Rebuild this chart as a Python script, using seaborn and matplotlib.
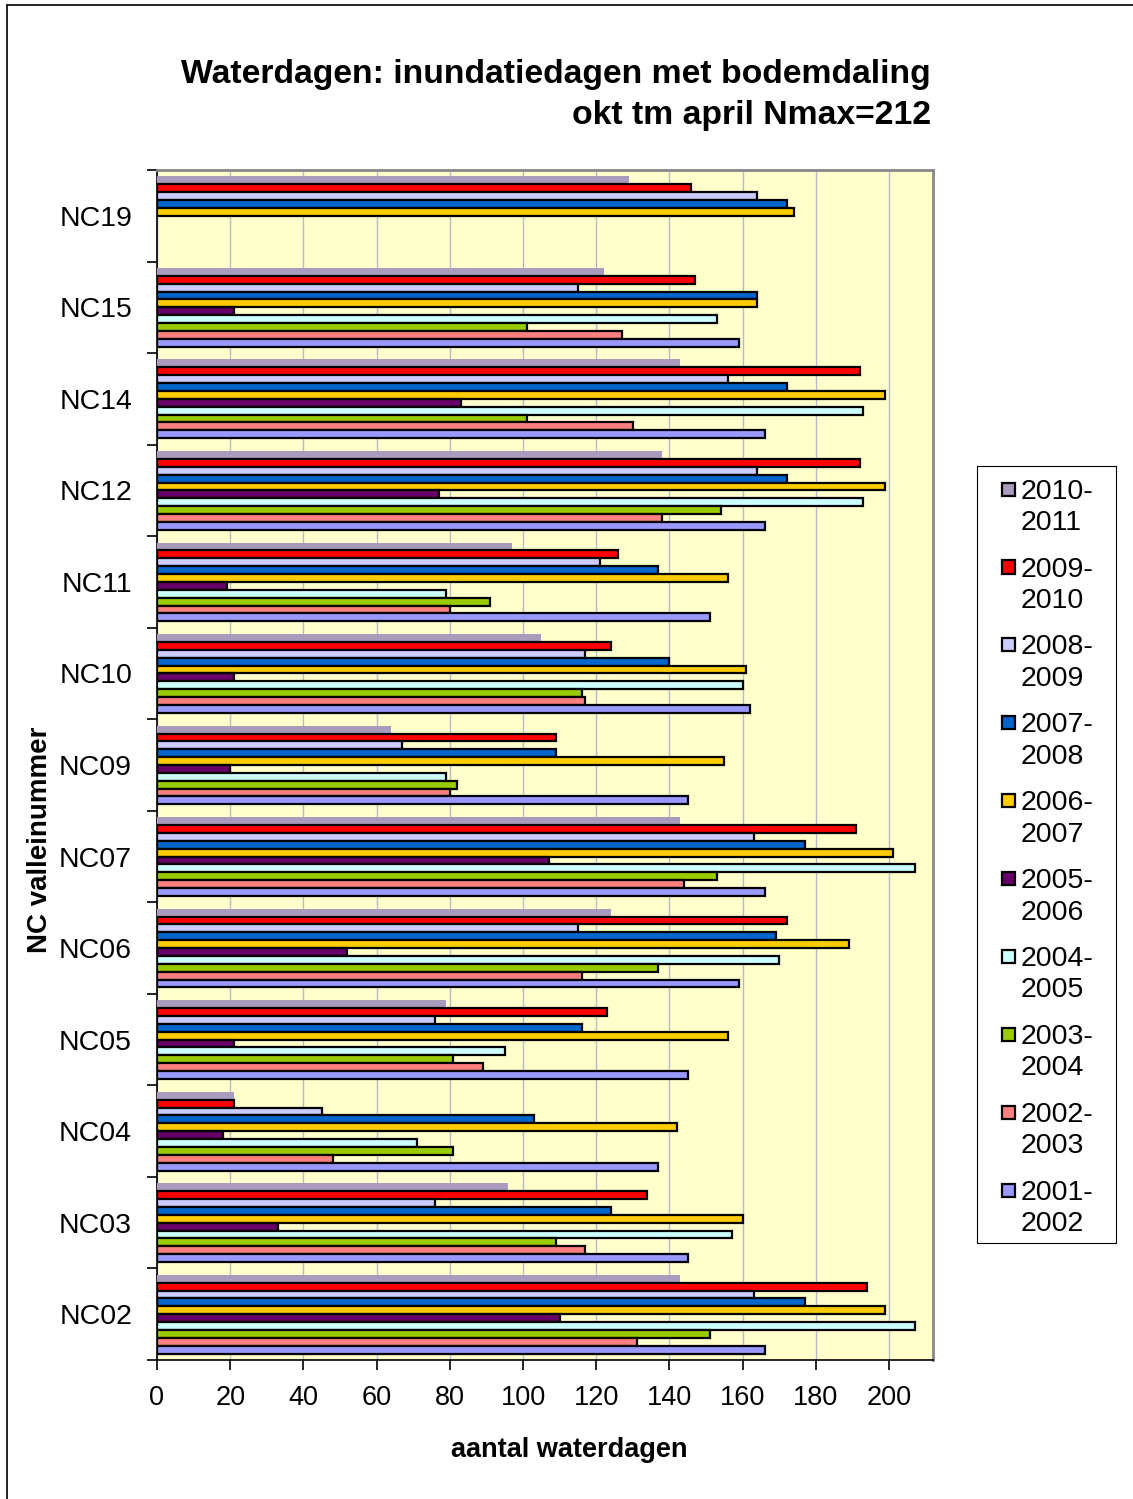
import numpy as np
import pandas as pd
import seaborn as sns
import matplotlib.pyplot as plt
from matplotlib.lines import Line2D
from matplotlib.patches import Rectangle
from matplotlib.legend_handler import HandlerPatch
from matplotlib.ticker import MultipleLocator, FixedLocator

# Valleys, top to bottom
valleys = ["NC19", "NC15", "NC14", "NC12", "NC11", "NC10", "NC09",
           "NC07", "NC06", "NC05", "NC04", "NC03", "NC02"]

# Winter seasons (legend order, top to bottom)
seasons = ["2010-2011", "2009-2010", "2008-2009", "2007-2008", "2006-2007",
           "2005-2006", "2004-2005", "2003-2004", "2002-2003", "2001-2002"]

# Number of inundation days per season, listed in the same valley order as above
# (None = no measurement)
s2010_2011 = [129, 122, 143, 138, 97, 105, 64, 143, 124, 79, 21, 96, 143]
s2009_2010 = [146, 147, 192, 192, 126, 124, 109, 191, 172, 123, 21, 134, 194]
s2008_2009 = [164, 115, 156, 164, 121, 117, 67, 163, 115, 76, 45, 76, 163]
s2007_2008 = [172, 164, 172, 172, 137, 140, 109, 177, 169, 116, 103, 124, 177]
s2006_2007 = [174, 164, 199, 199, 156, 161, 155, 201, 189, 156, 142, 160, 199]
s2005_2006 = [None, 21, 83, 77, 19, 21, 20, 107, 52, 21, 18, 33, 110]
s2004_2005 = [None, 153, 193, 193, 79, 160, 79, 207, 170, 95, 71, 157, 207]
s2003_2004 = [None, 101, 101, 154, 91, 116, 82, 153, 137, 81, 81, 109, 151]
s2002_2003 = [None, 127, 130, 138, 80, 117, 80, 144, 116, 89, 48, 117, 131]
s2001_2002 = [None, 159, 166, 166, 151, 162, 145, 166, 159, 145, 137, 145, 166]

series_values = [s2010_2011, s2009_2010, s2008_2009, s2007_2008, s2006_2007,
                 s2005_2006, s2004_2005, s2003_2004, s2002_2003, s2001_2002]

colors = ["#A99BBD", "#FF0000", "#CCCCFF", "#0066CC", "#FFCC00",
          "#660066", "#CCFFFF", "#99CC00", "#FF8080", "#9999FF"]

rows = []
for season, vals in zip(seasons, series_values):
    for valley, v in zip(valleys, vals):
        if v is not None:
            rows.append({"vallei": valley, "seizoen": season, "dagen": v})
df = pd.DataFrame(rows)

sns.set_style("white")
plt.rcParams["font.family"] = ["Liberation Sans", "DejaVu Sans"]
for key in ["text.color", "axes.labelcolor", "xtick.color", "ytick.color"]:
    plt.rcParams[key] = "black"

W, H = 1133, 1499
fig = plt.figure(figsize=(W / 100, H / 100), dpi=100)
ax = fig.add_axes([157 / W, 1 - 1360 / H, (933 - 157) / W, (1360 - 170) / H])
ax.set_facecolor("#FFFFCC")

sns.barplot(data=df, x="dagen", y="vallei", hue="seizoen",
            order=valleys, hue_order=seasons, palette=colors, saturation=1,
            orient="h", width=0.86, dodge=True, errorbar=None,
            edgecolor="black", linewidth=1.6, ax=ax, zorder=3)

# the newest season is drawn without an outline
for cont, season in zip(ax.containers, seasons):
    if season == "2010-2011":
        for bar in cont:
            bar.set_edgecolor("none")
            bar.set_linewidth(0)

ax.set_xlim(0, 212)
ax.set_ylim(len(valleys) - 0.5, -0.5)

# vertical gridlines
ax.xaxis.set_major_locator(MultipleLocator(20))
ax.grid(axis="x", color="#B8B8CC", linewidth=1.0, zorder=0)
ax.grid(axis="y", visible=False)
ax.set_axisbelow(True)

# category boundary ticks on the value axis
ax.yaxis.set_minor_locator(FixedLocator(np.arange(-0.5, len(valleys), 1.0)))
ax.tick_params(axis="y", which="major", length=0, pad=18, labelsize=20.5)
ax.tick_params(axis="y", which="minor", length=7, width=1.2, color="black", left=True)
ax.tick_params(axis="x", which="major", length=7, width=1.2, color="black",
               bottom=True, direction="out", labelsize=19.5, pad=11)

for side in ["left", "bottom"]:
    ax.spines[side].set_color("black")
    ax.spines[side].set_linewidth(1.2)
for side in ["top", "right"]:
    ax.spines[side].set_color("#888888")
    ax.spines[side].set_linewidth(2.0)

ax.set_xlabel("aantal waterdagen", fontsize=19.5, fontweight="bold")
ax.xaxis.set_label_coords((569 - 157) / 776, -(1437 - 1360) / 1190)
ax.set_ylabel("NC valleinummer", fontsize=20, fontweight="bold")
ax.yaxis.set_label_coords(-(157 - 40) / 776, 1 - (840 - 170) / 1190)
ax.yaxis.label.set_va("center")
ax.xaxis.label.set_va("top")

fig.text(931 / W, 1 - 59 / H,
         "Waterdagen: inundatiedagen met bodemdaling\nokt tm april Nmax=212",
         ha="right", va="top", fontsize=24.3, fontweight="bold", linespacing=1.4)


# legend keys: small squares beside the first line of each two-line label
def upper_square(legend, orig_handle, xdescent, ydescent, width, height, fontsize):
    side = 0.46 * fontsize
    return Rectangle((-xdescent + width - side, -ydescent + 0.68 * fontsize), side, side)


handles, labels = ax.get_legend_handles_labels()
labels = [lab.replace("-", "-\n") for lab in labels]
leg = ax.legend(handles, labels, loc="upper left",
                bbox_to_anchor=(987 / W, 1 - 473 / H),
                bbox_transform=fig.transFigure,
                fontsize=20.5, frameon=False,
                handlelength=0.8, handleheight=0.46,
                handletextpad=0.18, labelspacing=0.72, borderpad=0.2,
                borderaxespad=0,
                handler_map={Rectangle: HandlerPatch(patch_func=upper_square)})
for t in leg.get_texts():
    t.set_linespacing(1.27)

# legend box
fig.add_artist(Rectangle((977 / W, 1 - 1243 / H), (1116 - 977) / W, (1243 - 466) / H,
                         transform=fig.transFigure, facecolor="none",
                         edgecolor="black", linewidth=0.8))

# outer chart border
fig.add_artist(Line2D([7 / W, 7 / W], [0, 1 - 5 / H], color="black", lw=1.2,
                      transform=fig.transFigure))
fig.add_artist(Line2D([7 / W, 1], [1 - 5 / H, 1 - 5 / H], color="black", lw=1.2,
                      transform=fig.transFigure))

fig.savefig("out.png", dpi=100)
